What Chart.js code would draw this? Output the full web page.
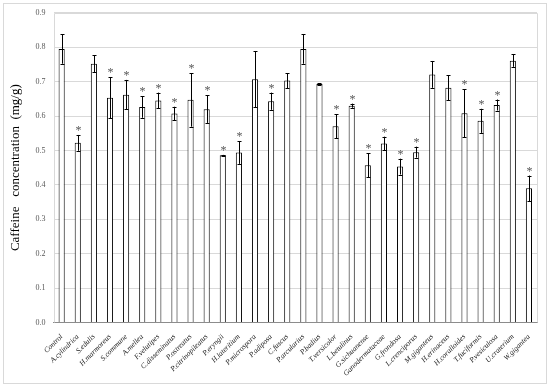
<!DOCTYPE html>
<html>
<head>
<meta charset="utf-8">
<script src="https://cdn.jsdelivr.net/npm/chart.js@4/dist/chart.umd.min.js"></script>
<style>
  html, body { margin: 0; padding: 0; background: #fff; }
  #wrap { width: 550px; height: 387px; }
</style>
</head>
<body>
<div id="wrap"><canvas id="myChart"></canvas></div>
<script>
// species on the x axis
const categories = ["Control", "A.cylindrica", "S.edulis", "H.marmoreus", "S.commune", "A.mellea",
  "F.velutipes", "C.disseminatus", "P.ostreatus", "P.citrinopileatus", "P.eryngii", "H.lateritium",
  "P.microspora", "P.adiposa", "C.fuscus", "P.arcularius", "P.badius", "T.versicolor", "L.betulinus",
  "G.sichuanense", "Ganodermataceae", "G.frondosa", "L.crenciporus", "M.giganteus", "H.erinaceus",
  "H.coralloides", "T.fuciformis", "P.vesiculosa", "U.craterium", "W.gigantea"];

// caffeine (mg/g)
const caffeine = [0.795, 0.522, 0.752, 0.653, 0.662, 0.626, 0.645, 0.607, 0.647, 0.620, 0.486, 0.494,
  0.707, 0.643, 0.703, 0.795, 0.693, 0.570, 0.630, 0.457, 0.520, 0.453, 0.495, 0.721, 0.682,
  0.608, 0.586, 0.632, 0.761, 0.390];

// standard deviation
const errors = [0.043, 0.023, 0.024, 0.060, 0.043, 0.031, 0.023, 0.020, 0.078, 0.040, 0.001, 0.033,
  0.082, 0.025, 0.022, 0.043, 0.002, 0.035, 0.006, 0.035, 0.020, 0.023, 0.016, 0.039, 0.036,
  0.070, 0.035, 0.016, 0.018, 0.037];

// significant difference from control
const signif = [0, 1, 0, 1, 1, 1, 1, 1, 1, 1, 1, 1, 0, 1, 0, 0, 0, 1, 1, 1, 1, 1, 1, 0, 0, 1, 1, 1, 0, 1];

const yTicks = [0, 0.1, 0.2, 0.3, 0.4, 0.5, 0.6, 0.7, 0.8, 0.9];

// error bars, stars and the excel style frames
const extras = {
  id: "extras",
  beforeDraw(chart) {
    const ctx = chart.ctx;
    ctx.save();
    ctx.fillStyle = "#fff";
    ctx.fillRect(0, 0, chart.width, chart.height);
    ctx.strokeStyle = "#d9d9d9";
    ctx.lineWidth = 1;
    ctx.strokeRect(3.5, 3.5, chart.width - 7, chart.height - 7);
    ctx.restore();
  },
  afterDatasetsDraw(chart) {
    const ctx = chart.ctx;
    const y = chart.scales.y;
    const a = chart.chartArea;
    const meta = chart.getDatasetMeta(0);
    ctx.save();
    ctx.strokeStyle = "#d9d9d9";
    ctx.lineWidth = 1;
    ctx.beginPath();
    ctx.moveTo(Math.round(a.left) + 0.5, a.bottom);
    ctx.lineTo(Math.round(a.left) + 0.5, Math.round(a.top) + 0.5);
    ctx.lineTo(Math.round(a.right) + 0.5, Math.round(a.top) + 0.5);
    ctx.lineTo(Math.round(a.right) + 0.5, a.bottom);
    ctx.stroke();

    ctx.strokeStyle = "#000";
    meta.data.forEach((bar, i) => {
      const x = Math.round(bar.x) + 0.5;
      const hi = y.getPixelForValue(caffeine[i] + errors[i]);
      const lo = y.getPixelForValue(caffeine[i] - errors[i]);
      ctx.beginPath();
      ctx.moveTo(x, lo);
      ctx.lineTo(x, hi);
      ctx.moveTo(x - 2, Math.round(hi) + 0.5);
      ctx.lineTo(x + 2, Math.round(hi) + 0.5);
      ctx.moveTo(x - 2, Math.round(lo) + 0.5);
      ctx.lineTo(x + 2, Math.round(lo) + 0.5);
      ctx.stroke();
      if (signif[i]) {
        ctx.fillStyle = "#555";
        ctx.font = "12px 'Liberation Serif'";
        ctx.textAlign = "center";
        ctx.textBaseline = "alphabetic";
        ctx.fillText("*", x, hi - 1);
      }
    });
    ctx.restore();
  }
};

new Chart("myChart", {
  type: "bar",
  data: {
    labels: categories,
    datasets: [{
      data: caffeine,
      backgroundColor: "#fff",
      borderColor: "#000",
      borderWidth: 1,
      barPercentage: 0.38,
      categoryPercentage: 1
    }]
  },
  options: {
    responsive: true,
    maintainAspectRatio: false,
    animation: false,
    layout: { padding: { left: 8, right: 13, top: 10, bottom: 7 } },
    plugins: {
      legend: { display: false },
      tooltip: { enabled: false }
    },
    scales: {
      x: {
        grid: { display: false },
        border: { color: "#8c8c8c", width: 1 },
        ticks: {
          color: "#222",
          font: { family: "Liberation Serif", size: 7.5, style: "italic" },
          minRotation: 45,
          maxRotation: 45,
          autoSkip: false,
          padding: 2
        }
      },
      y: {
        min: 0,
        max: 0.9,
        afterBuildTicks(axis) {
          axis.ticks = yTicks.map(v => ({ value: v }));
        },
        grid: { color: "#d9d9d9", drawTicks: false },
        border: { display: false },
        ticks: {
          color: "#595959",
          font: { family: "Liberation Serif", size: 8 },
          padding: 8,
          callback: v => v.toFixed(1)
        },
        title: {
          display: true,
          text: "Caffeine   concentration  (mg/g)",
          color: "#000",
          font: { family: "Liberation Serif", size: 13 },
          padding: { top: 0, bottom: 4 }
        }
      }
    }
  },
  plugins: [extras]
});
</script>
</body>
</html>
